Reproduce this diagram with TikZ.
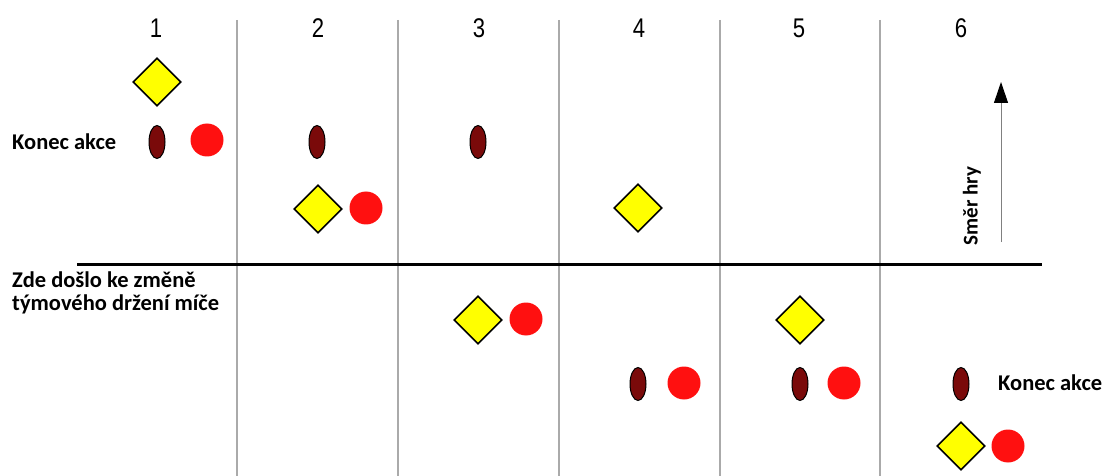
\documentclass[tikz,border=0pt]{standalone}
\usepackage{fontspec}
\usepackage{graphicx}
\setmainfont{Liberation Sans}
\newfontfamily\lblfont{Carlito}
\usetikzlibrary{shapes.geometric,arrows.meta}
\definecolor{dkred}{HTML}{7A0A0A}
\definecolor{brred}{HTML}{FF1010}
\definecolor{ylw}{HTML}{FFFF00}
\definecolor{gridgray}{HTML}{AAAAAA}
\tikzset{
  ydiam/.style={diamond, draw=black, line width=1.6pt, fill=ylw, minimum width=48pt, minimum height=48pt, inner sep=0pt},
  dkell/.style={ellipse, draw=black, line width=1pt, fill=dkred, minimum width=16pt, minimum height=33pt, inner sep=0pt},
  rdot/.style={circle, fill=brred, minimum size=33pt, inner sep=0pt},
  colnum/.style={font=\fontsize{27}{30}\selectfont, inner sep=0pt},
  lbl/.style={font=\lblfont\bfseries\fontsize{22.5}{23}\selectfont, inner sep=0pt, align=left},
  gridline/.style={draw=gridgray, line width=1.3pt},
  boundary/.style={draw=black, line width=3pt},
  dirarrow/.style={draw=gray, line width=1pt, -{Triangle[length=21pt,width=14pt,color=black]}}
}
\begin{document}
\begin{tikzpicture}[x=1pt,y=-1pt]
\useasboundingbox (0,0) rectangle (1104,476);
% column separators
\foreach \xx/\nm in {237/s1,398/s2,559/s3,720/s4,880/s5}{
  \coordinate (\nm t) at (\xx,20);
  \coordinate (\nm b) at (\xx,476);
  \draw[gridline] (\nm t) -- (\nm b);
}
% column numbers
\foreach \xx/\n in {156/1,318/2,479/3,639/4,799/5,961/6}{
  \node[colnum] (n\n) at (\xx,28) {\scalebox{0.82}[1]{\n}};
}
% boundary line
\coordinate (hl) at (77,264);
\coordinate (hr) at (1042,264);
\draw[boundary] (hl) -- (hr);
% direction arrow
\coordinate (ab) at (1001,242);
\coordinate (at) at (1001,82);
\draw[dirarrow] (ab) -- (at);
\node[lbl, rotate=90, font=\lblfont\bfseries\fontsize{21}{23}\selectfont] (smer) at (972,206) {Směr hry};
% labels
\node[lbl, anchor=west] (konec1) at (12,142) {Konec akce};
\node[lbl, anchor=west] (konec2) at (998,383) {Konec akce};
\node[lbl, anchor=north west] (zmena) at (12,272) {Zde došlo ke změně\\týmového držení míče};
% row 1
\node[ydiam] (d1) at (157,82) {};
% row 2
\node[dkell] (e1) at (157,142) {};
\node[rdot] (r1) at (207,140) {};
\node[dkell] (e2) at (317,142) {};
\node[dkell] (e3) at (478,142) {};
% row 3
\node[ydiam] (d2) at (318,209) {};
\node[rdot] (r2) at (366,208) {};
\node[ydiam] (d4) at (638,208) {};
% row 4
\node[ydiam] (d3) at (478,320) {};
\node[rdot] (r3) at (526,319) {};
\node[ydiam] (d5) at (800,320) {};
% row 5
\node[dkell] (e4) at (638,384) {};
\node[rdot] (r4) at (684,383) {};
\node[dkell] (e5) at (800,384) {};
\node[rdot] (r5) at (844,383) {};
\node[dkell] (e6) at (961,384) {};
% row 6
\node[ydiam] (d6) at (961,446) {};
\node[rdot] (r6) at (1008,446) {};
\end{tikzpicture}
\end{document}
